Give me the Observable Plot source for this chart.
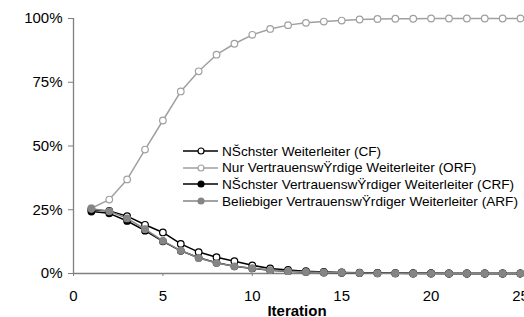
<!DOCTYPE html>
<html>
<head>
<meta charset="utf-8">
<script src="https://cdn.jsdelivr.net/npm/d3@7"></script>
<script src="https://cdn.jsdelivr.net/npm/@observablehq/plot@0.6"></script>
<style>
  html, body { margin: 0; padding: 0; background: #fff; overflow: hidden; }
  #wrap { position: relative; width: 524px; height: 317px; }
  #legend { position: absolute; left: 183px; top: 143px; font: 13.6px "Liberation Sans", Arial, sans-serif; color: #000; }
  #legend .row { height: 16.6px; display: flex; align-items: center; white-space: nowrap; }
  #legend svg { margin-right: 4px; }
  g[aria-label="y-axis tick"] path, g[aria-label="x-axis tick"] path { stroke: #7f7f7f; }
</style>
</head>
<body>
<div id="wrap"></div>
<script>
const iterations = d3.range(1, 26);
const seriesNames = [
  "NŠchster Weiterleiter (CF)",
  "Nur VertrauenswŸrdige Weiterleiter (ORF)",
  "NŠchster VertrauenswŸrdiger Weiterleiter (CRF)",
  "Beliebiger VertrauenswŸrdiger Weiterleiter (ARF)"
];
const cfValues  = [25.0, 24.5, 22.5, 19.1, 16.1, 11.6, 8.4, 6.4, 4.8, 3.2, 2.0, 1.4, 0.9, 0.6, 0.4, 0.3, 0.2, 0.1, 0.1, 0.1, 0, 0, 0, 0, 0];
const orfValues = [25.6, 29.0, 36.9, 48.6, 60.0, 71.4, 79.3, 85.8, 90.1, 93.6, 95.9, 97.4, 98.3, 98.8, 99.2, 99.6, 99.8, 99.9, 99.9, 100, 100, 100, 100, 100, 100];
const crfValues = [24.3, 23.6, 20.6, 16.8, 12.6, 8.9, 6.2, 4.2, 2.8, 2.0, 1.3, 0.9, 0.6, 0.4, 0.3, 0.2, 0.1, 0.1, 0, 0, 0, 0, 0, 0, 0];
const arfValues = [25.4, 24.4, 21.6, 17.4, 12.8, 9.0, 6.1, 4.1, 2.8, 2.1, 1.3, 0.9, 0.6, 0.4, 0.3, 0.2, 0.1, 0.1, 0, 0, 0, 0, 0, 0, 0];
const xTicks = [0, 5, 10, 15, 20, 25];
const yTicks = [0, 0.25, 0.5, 0.75, 1];

const styles = [
  {line: "#000000", fill: "#ffffff", stroke: "#000000"},
  {line: "#a0a0a0", fill: "#ffffff", stroke: "#a0a0a0"},
  {line: "#000000", fill: "#000000", stroke: "#000000"},
  {line: "#858585", fill: "#858585", stroke: "#858585"}
];
const allValues = [cfValues, orfValues, crfValues, arfValues];
const tables = allValues.map(vals => iterations.map((it, i) => ({x: it, y: vals[i] / 100})));

const drawOrder = [1, 2, 0, 3];
const seriesMarks = drawOrder.flatMap(k => [
  Plot.line(tables[k], {x: "x", y: "y", stroke: styles[k].line, strokeWidth: 1.5}),
  Plot.dot(tables[k], {x: "x", y: "y", r: 3.3, fill: styles[k].fill, stroke: styles[k].stroke, strokeWidth: 1.2})
]);

const chart = Plot.plot({
  width: 524,
  height: 317,
  marginLeft: 73,
  marginRight: 4,
  marginTop: 18,
  marginBottom: 44,
  style: {fontFamily: "'Liberation Sans', Arial, sans-serif", fontSize: "15px", color: "#000", background: "#fff", overflow: "visible"},
  x: {domain: [0, 25], ticks: xTicks, tickSize: 3, tickPadding: 14, label: null},
  y: {domain: [0, 1], ticks: yTicks, tickFormat: d3.format(".0%"), tickSize: 5, tickPadding: 6, label: null},
  marks: [
    Plot.ruleX([0], {stroke: "#7f7f7f", strokeWidth: 1.3}),
    Plot.ruleY([0], {stroke: "#7f7f7f", strokeWidth: 1.3}),
    ...seriesMarks,
    Plot.text(["Iteration"], {frameAnchor: "bottom", dy: 42, fontWeight: "bold", fontSize: 15, fill: "#000"})
  ]
});
const wrap = document.getElementById("wrap");
wrap.appendChild(chart);

const legend = document.createElement("div");
legend.id = "legend";
seriesNames.forEach((name, k) => {
  const row = document.createElement("div");
  row.className = "row";
  row.innerHTML = `<svg width="35" height="10"><line x1="0" x2="35" y1="5" y2="5" stroke="${styles[k].line}" stroke-width="1.5"/><circle cx="18" cy="5" r="3" fill="${styles[k].fill}" stroke="${styles[k].stroke}" stroke-width="1.2"/></svg><span>${name}</span>`;
  legend.appendChild(row);
});
wrap.appendChild(legend);
</script>
</body>
</html>
